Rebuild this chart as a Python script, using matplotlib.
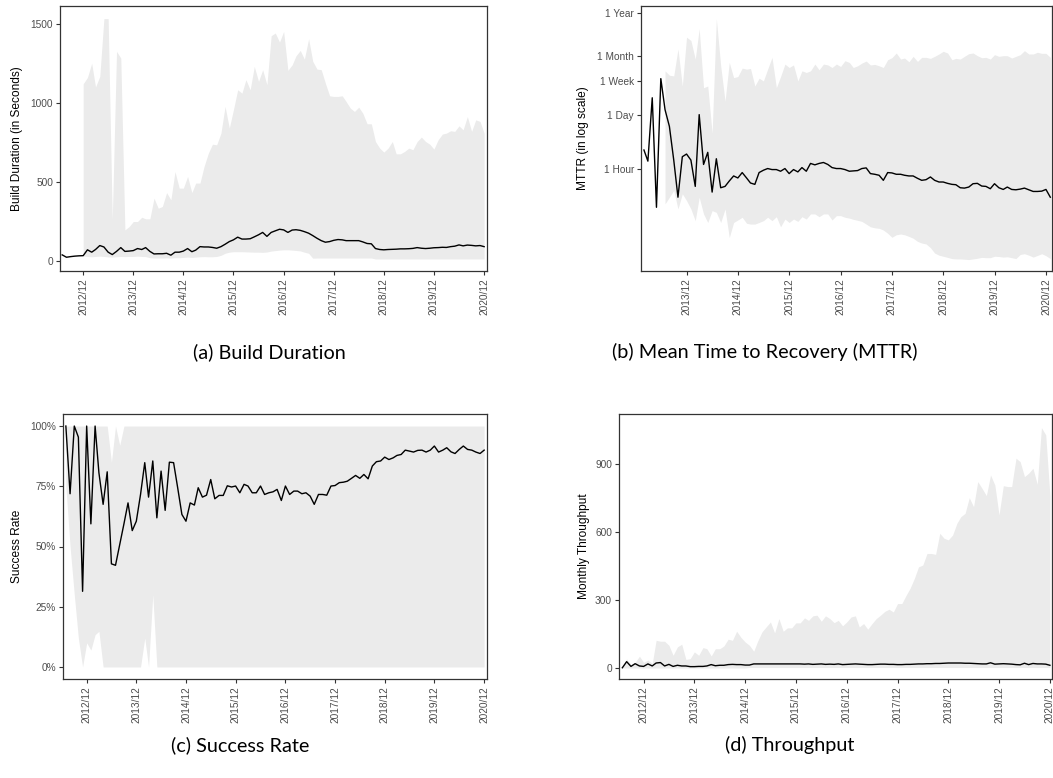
import numpy as np
import pandas as pd
import matplotlib
matplotlib.use("Agg")
import matplotlib.pyplot as plt
import matplotlib.dates as mdates
from matplotlib.ticker import FixedLocator, FuncFormatter

plt.rcParams['font.family'] = ['Liberation Sans', 'DejaVu Sans']

nan = np.nan

# months 2012/07 .. 2020/12
months = pd.date_range('2012-07-01', '2020-12-01', freq='MS')
# MTTR months 2013/02 .. 2021/01
months_mttr = pd.date_range('2013-02-01', '2021-01-01', freq='MS')

# (a) build duration, seconds
dur_median = [38, 23, 27, 30, 32, 33, 70, 55, 72, 97, 88, 55, 40, 60, 84, 60, 62, 65, 78, 72,
              84, 60, 44, 45, 45, 48, 36, 55, 55, 62, 78, 58, 68, 90, 88, 88, 85, 80, 90, 105,
              122, 133, 150, 138, 138, 140, 152, 165, 180, 155, 180, 190, 200, 196, 180, 195, 197, 193, 185, 175,
              160, 143, 128, 118, 122, 130, 135, 133, 128, 128, 128, 128, 120, 110, 108, 78, 72, 70, 72, 73,
              74, 76, 76, 77, 79, 84, 80, 78, 80, 83, 84, 86, 85, 90, 93, 101, 95, 100, 98, 95,
              97, 90]
dur_upper = [nan, nan, nan, nan, nan, 1120, 1160, 1250, 1100, 1167, 1532, 1532, 260, 1325, 1283, 196, 217, 249, 249, 276,
             266, 266, 397, 333, 344, 432, 386, 565, 460, 460, 534, 432, 492, 492, 597, 681, 738, 734, 808, 977,
             840, 956, 1082, 1061, 1146, 1082, 1230, 1135, 1209, 1114, 1424, 1441, 1384, 1451, 1205, 1240, 1297, 1331, 1276, 1405,
             1262, 1213, 1209, 1124, 1044, 1040, 1040, 1044, 1008, 966, 945, 972, 934, 867, 867, 755, 713, 688, 713, 755,
             677, 677, 692, 713, 703, 755, 783, 755, 738, 707, 766, 802, 808, 823, 819, 854, 829, 913, 819, 892,
             882, 808]
dur_lower = [nan, nan, nan, nan, nan, 30, 28, 26, 28, 30, 28, 25, 24, 26, 28, 27, 28, 28, 30, 28,
             27, 20, 18, 18, 18, 19, 18, 20, 20, 22, 24, 22, 24, 26, 27, 26, 26, 28, 35, 48,
             55, 58, 58, 58, 57, 56, 55, 55, 54, 56, 62, 65, 68, 70, 70, 68, 66, 63, 55, 48,
             17, 18, 18, 18, 18, 18, 18, 18, 18, 18, 18, 18, 18, 18, 18, 12, 12, 12, 12, 12,
             12, 12, 12, 12, 12, 12, 12, 12, 12, 12, 12, 12, 12, 12, 12, 12, 12, 12, 12, 12,
             12, 12]

# (b) MTTR, hours
mttr_median = [3.06, 1.60, 64, 0.109, 195, 32, 12.1, 1.70, 0.196, 2.07,
               2.42, 1.70, 0.368, 24, 1.32, 2.67, 0.264, 1.84, 0.340, 0.368,
               0.503, 0.676, 0.601, 0.822, 0.601, 0.448, 0.414, 0.822, 0.943, 1.04,
               0.98, 0.98, 0.889, 1.04, 0.775, 0.98, 0.855, 1.10, 0.889, 1.40,
               1.29, 1.40, 1.48, 1.32, 1.10, 1.04, 1.04, 0.98, 0.889, 0.906,
               0.924, 1.04, 1.08, 0.775, 0.745, 0.703, 0.524, 0.822, 0.806, 0.745,
               0.745, 0.703, 0.676, 0.676, 0.589, 0.524, 0.544, 0.637, 0.524, 0.475,
               0.475, 0.439, 0.414, 0.406, 0.340, 0.333, 0.354, 0.430, 0.439, 0.375,
               0.368, 0.321, 0.430, 0.340, 0.308, 0.354, 0.308, 0.302, 0.314, 0.333,
               0.302, 0.274, 0.274, 0.279, 0.308, 0.196]
mttr_upper = [nan, nan, nan, nan, nan, 307, 238, 229, 1099, 127,
              2183, 1795, 610, 3565, 115, 127, 8.15, 6412, 412, 52.6,
              501, 207, 220, 359, 339, 352, 127, 200, 171, 339,
              673, 115, 220, 455, 373, 433, 171, 307, 279, 307,
              455, 326, 455, 433, 373, 455, 396, 553, 501, 373,
              412, 482, 542, 433, 446, 412, 373, 586, 660, 868,
              610, 647, 521, 714, 532, 673, 673, 634, 714, 819,
              957, 868, 586, 634, 610, 714, 835, 868, 742, 660,
              673, 610, 787, 714, 742, 742, 647, 714, 787, 995,
              819, 819, 903, 851, 851, 673]
mttr_lower = [nan, nan, nan, nan, nan, 0.133, 0.196, 0.291, 0.099, 0.239,
              0.161, 0.099, 0.050, 0.196, 0.074, 0.045, 0.090, 0.081, 0.045, 0.099,
              0.0187, 0.045, 0.052, 0.061, 0.043, 0.041, 0.041, 0.045, 0.050, 0.061,
              0.050, 0.063, 0.035, 0.055, 0.045, 0.055, 0.048, 0.063, 0.055, 0.074,
              0.074, 0.063, 0.074, 0.074, 0.052, 0.067, 0.067, 0.061, 0.058, 0.054,
              0.051, 0.048, 0.041, 0.035, 0.033, 0.032, 0.029, 0.024, 0.019, 0.022,
              0.023, 0.022, 0.020, 0.018, 0.015, 0.0136, 0.0129, 0.0104, 0.0076, 0.0067,
              0.0063, 0.0059, 0.0055, 0.0054, 0.0054, 0.0053, 0.0052, 0.0054, 0.0056, 0.0059,
              0.0058, 0.0058, 0.0063, 0.0062, 0.0060, 0.0061, 0.0058, 0.0055, 0.0070, 0.0073,
              0.0067, 0.0060, 0.0066, 0.0073, 0.0065, 0.0055]

# (c) success rate, percent
succ_median = [100, 71.9, 100, 95.4, 31.4, 100, 59.4, 100, 80.6, 67.5,
               81, 42.8, 42.2, 50.8, 59.4, 68.1, 56.6, 60.5, 71.6, 84.8,
               70.5, 85.5, 61.9, 81.3, 65, 85, 84.8, 74.4, 63.3, 60.5,
               68.1, 67.2, 74.4, 70.5, 71.3, 77.8, 69.8, 71.2, 71.2, 75.2,
               74.7, 75.1, 72.3, 75.8, 75.1, 72.3, 72.3, 75.1, 71.6, 72.3,
               72.7, 73.7, 69.1, 75.1, 71.6, 73.0, 73.0, 71.9, 72.3, 70.9,
               67.5, 71.6, 71.6, 71.3, 75.1, 75.3, 76.5, 76.7, 77.1, 78.3,
               79.5, 78.3, 79.9, 78.1, 83.4, 85.2, 85.5, 87.1, 86.1, 86.8,
               87.8, 88.2, 90.0, 89.6, 89.2, 89.9, 90.0, 89.2, 90.0, 91.7,
               89.2, 90.0, 91.0, 89.3, 88.6, 90.3, 91.7, 90.3, 90.0, 89.2,
               88.6, 90.0]
succ_upper = [100, 100, 100, 100, 100, 100, 100, 100, 100, 100,
              100, 85, 100, 92] + [100] * 88
succ_lower = [75, 50, 30, 12, 0, 10, 7, 13.4, 14.8, 0,
              0, 0, 0, 0, 0, 0, 0, 0, 0, 12,
              0, 30] + [0] * 80

# (d) monthly throughput
thr_median = [1, 28, 7, 19, 9, 7, 18, 9, 22, 24, 9, 16, 7, 12, 9, 9, 6, 6, 7, 7,
              9, 15, 10, 12, 12, 15, 16, 15, 15, 13, 13, 18, 18, 18, 18, 18, 18, 18, 18, 18,
              18, 18, 18, 17, 18, 16, 17, 18, 16, 17, 16, 18, 15, 16, 17, 18, 17, 16, 15, 15,
              16, 17, 17, 16, 16, 15, 15, 16, 16, 17, 18, 18, 19, 19, 20, 20, 21, 22, 22, 22,
              22, 21, 21, 20, 19, 18, 18, 23, 17, 18, 19, 18, 17, 15, 14, 21, 15, 20, 18, 18,
              17, 12]
thr_upper = [2, 40, 15, 25, 52, 25, 35, 20, 122, 118, 118, 100, 56, 93, 105, 38, 41, 71, 56, 90,
             85, 53, 85, 85, 97, 127, 122, 162, 135, 115, 100, 74, 118, 159, 181, 203, 155, 218, 162, 177,
             177, 199, 199, 221, 210, 230, 233, 206, 230, 218, 200, 210, 186, 203, 225, 230, 181, 196, 171, 196,
             218, 233, 250, 259, 247, 284, 284, 321, 351, 395, 446, 454, 505, 505, 501, 594, 572, 565, 586, 638,
             667, 682, 751, 711, 822, 792, 760, 851, 807, 675, 804, 800, 800, 925, 910, 844, 859, 881, 810, 1060,
             1028, 760]
thr_lower = [0] * 30 + [2] * 72

x_ticks = pd.date_range('2012-12-01', '2020-12-01', freq='12MS')
x_ticks_mttr = pd.date_range('2013-12-01', '2020-12-01', freq='12MS')

W, H = 1053, 778
fig = plt.figure(figsize=(W / 100, H / 100), dpi=100)

band_col = '#EBEBEB'
frame_col = '#333333'
tick_col = '#4D4D4D'


def box(l, t, r, b):
    return [l / W, 1 - b / H, (r - l) / W, (b - t) / H]


def style(ax, ticks, xlim, ylabel, lab_x):
    ax.set_xlim(pd.Timestamp(xlim[0]), pd.Timestamp(xlim[1]))
    ax.set_xticks(ticks)
    ax.xaxis.set_major_formatter(mdates.DateFormatter('%Y/%m'))
    ax.tick_params(axis='x', rotation=90, labelsize=7.3, colors=frame_col, labelcolor=tick_col,
                   length=3, width=0.8, pad=2)
    ax.tick_params(axis='y', labelsize=7.3, colors=frame_col, labelcolor=tick_col,
                   length=3, width=0.8, pad=2)
    for s in ax.spines.values():
        s.set_color(frame_col)
        s.set_linewidth(0.9)
    ax.set_ylabel(ylabel, fontsize=8.6)
    ax.yaxis.set_label_coords(lab_x, 0.5)


def draw(ax, x, lo, hi, med):
    ax.fill_between(x, np.array(lo, float), np.array(hi, float), color=band_col, linewidth=0)
    ax.plot(x, med, color='black', lw=1.0)


# (a)
ax = fig.add_axes(box(60, 6, 487, 271))
draw(ax, months, dur_lower, dur_upper, dur_median)
ax.set_ylim(-64, 1612)
ax.set_yticks([0, 500, 1000, 1500])
style(ax, x_ticks, ('2012-06-15', '2020-12-22'), 'Build Duration (in Seconds)', -0.087)

# (b)
ax = fig.add_axes(box(641, 6, 1052, 271))
draw(ax, months_mttr, mttr_lower, mttr_upper, mttr_median)
ax.set_yscale('log')
ax.set_ylim(0.00267, 13390)
ax.yaxis.set_major_locator(FixedLocator([1, 24, 168, 720, 8760]))
ax.yaxis.set_minor_locator(FixedLocator([]))
ax.set_yticklabels(['1 Hour', '1 Day', '1 Week', '1 Month', '1 Year'])
style(ax, x_ticks_mttr, ('2013-01-11', '2021-01-13'), 'MTTR (in log scale)', -0.127)

# (c)
ax = fig.add_axes(box(63, 414, 487, 679))
draw(ax, months, succ_lower, succ_upper, succ_median)
ax.set_ylim(-5, 105)
ax.set_yticks([0, 25, 50, 75, 100])
ax.yaxis.set_major_formatter(FuncFormatter(lambda v, p: '%d%%' % v))
style(ax, x_ticks, ('2012-06-10', '2020-12-22'), 'Success Rate', -0.094)

# (d)
ax = fig.add_axes(box(619, 414, 1052, 679))
draw(ax, months, thr_lower, thr_upper, thr_median)
ax.set_ylim(-48.5, 1120)
ax.set_yticks([0, 300, 600, 900])
style(ax, x_ticks, ('2012-06-07', '2020-12-16'), 'Monthly Throughput', -0.067)

# captions
cap = dict(fontsize=14.3, family=['Lato', 'DejaVu Sans'], ha='center', va='center')
fig.text(269 / W, 1 - 352 / H, '(a) Build Duration', **cap)
fig.text(765 / W, 1 - 352 / H, '(b) Mean Time to Recovery (MTTR)', **cap)
fig.text(240 / W, 1 - 745 / H, '(c) Success Rate', **cap)
fig.text(790 / W, 1 - 745 / H, '(d) Throughput', **cap)

fig.savefig('out.png', dpi=100)
